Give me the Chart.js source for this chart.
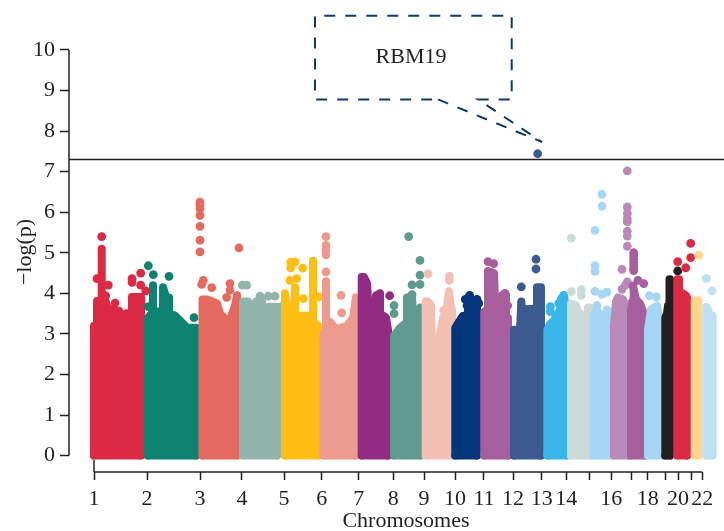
<!DOCTYPE html>
<html>
<head>
<meta charset="utf-8">
<title>Manhattan plot</title>
<script src="https://cdn.jsdelivr.net/npm/chart.js@4/dist/chart.umd.js"></script>
<style>
  body { margin: 0; background: #fff; }
  canvas { display: block; }
</style>
</head>
<body>
<canvas id="manhattan" width="724" height="531"></canvas>
<script>
// x is genome position in plot units, y is -log(p)
const chromColors = ['#dc2a44', '#0e8271', '#e46a60', '#93b4ab', '#ffbe14', '#ec9a8e', '#932b85', '#5e9a8e',
    '#f3bfb3', '#03367a', '#a65f9c', '#3a5a90', '#38b6ea', '#ccdad7', '#a6d6f5', '#b98ab7',
    '#a65f9c', '#a6d6f5', '#231f20', '#dd2a44', '#ffd68b', '#bde0f4'];

const tickPositions = [24, 77, 130, 172, 214, 251.7, 288.7, 323.3, 354, 385, 414, 443, 471.7, 496.3,
    519.7, 541.3, 561, 577.7, 595, 608, 621.3, 632.3];
const tickLabels = ['1', '2', '3', '4', '5', '6', '7', '8', '9', '10', '11', '12', '13', '14',
    '', '16', '', '18', '', '20', '', '22'];
const yTicks = [0, 1, 2, 3, 4, 5, 6, 7, 8, 9, 10];
const genomeWideLine = 7.3;

// upper outline of the dense mass of points on each chromosome
const skylines = [
    [[24, 3.2], [27, 3.2], [27, 3.81], [31.7, 3.81], [31.7, 5.1], [31.7, 3.85], [35, 3.85], [38, 3.6], [43, 3.6], [49, 3.5], [53, 3.38], [62, 3.38], [62, 3.91], [71, 3.91]],
    [[78, 3.4], [83, 3.55], [83, 4.2], [83, 3.55], [93, 3.55], [93, 4.15], [96, 3.9], [99, 3.9], [99, 3.5], [105, 3.45], [112, 3.28], [117, 3.15], [126, 3.15]],
    [[132.5, 3.85], [137, 3.85], [147, 3.75], [150, 3.5], [154, 3.4], [160, 3.35], [165, 3.7], [167, 3.95]],
    [[173, 3.8], [178, 3.8], [180, 3.1], [184, 3.1], [186, 3.8], [192, 3.85], [194, 3.1], [198, 3.1], [199, 3.67], [207, 3.67]],
    [[215, 4.0], [220, 3.4], [225, 3.4], [225, 4.15], [225, 3.45], [243, 3.45], [243, 4.8], [243, 3.3], [248, 3.2]],
    [[253.5, 3.0], [256, 3.0], [256, 4.3], [256, 3.35], [260, 3.3], [266, 3.12], [277, 3.2], [283, 3.4], [286, 3.9]],
    [[291.7, 4.4], [294, 4.4], [297, 4.25], [299, 3.45], [306, 3.45], [306, 3.95], [310, 4.0], [310, 3.5], [316, 3.4], [318, 3.1]],
    [[324, 2.95], [330, 3.15], [335, 3.25], [337, 3.25], [337, 3.9], [342, 3.9], [343, 3.5], [347, 3.2], [350, 3.2], [350, 3.65], [350.5, 3.65]],
    [[355.7, 3.8], [358, 3.8], [361, 3.7], [362, 2.75], [368, 2.65], [370, 3.0], [373, 3.4], [376, 3.5], [379, 4.05], [381, 3.6], [382, 3.2]],
    [[385.3, 3.15], [389, 3.3], [393, 3.45], [397, 3.45], [398, 3.9], [400, 3.6], [405, 3.7], [407, 3.65]],
    [[414.3, 3.55], [418, 3.6], [418, 4.55], [424, 4.5], [425, 3.75], [431, 3.75], [432, 3.95], [436, 3.95], [436, 3.45], [438, 3.4]],
    [[444, 3.1], [450, 3.1], [451.3, 3.8], [452, 3.6], [464, 3.62], [467, 3.65], [467, 4.15], [471, 4.15]],
    [[477.3, 3.1], [480, 3.25], [483, 3.3], [488, 3.5], [492, 3.7], [494, 3.95], [497, 3.5]],
    [[501, 3.75], [506, 3.7], [509, 3.5], [513, 3.45], [517, 3.4], [518, 3.65], [520, 3.65]],
    [[523.3, 3.45], [527, 3.6], [530, 3.45], [536, 3.45], [537, 3.6], [540, 3.55]],
    [[544, 3.2], [546, 3.8], [548, 3.9], [553, 3.85], [553, 3.6], [555, 3.75], [558, 3.75]],
    [[561, 3.6], [563.7, 3.9], [563.7, 4.1], [566, 3.85], [570, 3.75], [573, 3.55], [575, 3.4]],
    [[578, 3.1], [581, 3.6], [587, 3.7], [590, 3.3], [592, 3.2]],
    [[595.3, 3.4], [597, 3.5], [598, 3.7], [599, 3.7], [599.5, 4.35], [600, 4.35]],
    [[607.3, 4.35], [609, 4.35], [609, 4.0], [613, 4.0], [617, 3.9]],
    [[624.7, 3.83], [628.3, 3.83]],
    [[636.3, 3.67], [638, 3.6], [640, 3.45], [642.7, 3.45]]
];

// single points standing clear of the mass
const hits = [
    [[31.7, 5.4], [27, 4.36], [62, 4.36], [62, 4.27], [70.7, 4.5], [70.7, 4.2], [75.7, 4.06], [38.3, 4.2], [35.7, 3.94], [45, 3.76], [49, 3.56], [56.7, 3.5]],
    [[78.3, 4.68], [83.3, 4.46], [99, 4.42], [124, 3.4], [78.3, 3.67]],
    [[130, 6.25], [130, 6.17], [130, 6.09], [130, 5.92], [130, 5.65], [130, 5.31], [130, 5.02], [133.3, 4.32], [131.7, 4.22], [141.7, 4.14], [160, 4.24], [160, 4.08], [169, 5.12], [156.7, 3.9]],
    [[172.3, 4.2], [176.7, 4.2], [190, 3.93], [198.3, 3.93], [205, 3.93], [211.7, 3.67]],
    [[220.7, 4.77], [225, 4.77], [220.7, 4.63], [232.7, 4.62], [220, 4.32], [226.7, 4.36], [249, 3.91], [233.3, 3.87]],
    [[256, 5.4], [256, 5.18], [256, 5.06], [256, 4.95], [256, 4.53], [271, 3.95], [271.7, 3.52]],
    [[319.7, 3.94]],
    [[338.7, 5.4], [350, 4.81], [350, 4.45], [342, 4.21], [350, 4.22], [342, 3.97], [324, 3.7], [324, 3.5]],
    [[358, 4.48], [379.3, 4.42], [379.3, 4.32], [373.7, 3.58]],
    [[399.7, 3.95], [395.3, 3.85], [407, 3.85], [408.7, 3.75], [397, 3.7], [403.7, 3.82]],
    [[418, 4.78], [423.7, 4.73], [435, 4.0], [437.7, 3.7], [432, 3.5]],
    [[451.3, 4.16], [466, 4.84], [466, 4.6], [459.3, 3.38], [467.7, 7.44]],
    [[480.3, 3.67], [480.3, 3.55], [488.7, 3.75], [493.7, 3.95], [491.3, 3.87]],
    [[501.3, 5.36], [501.3, 4.04], [511.3, 4.09], [511.3, 3.95]],
    [[532, 6.44], [532, 6.15], [525, 5.55], [525, 4.68], [525, 4.54], [525, 4.05], [532, 3.98], [537, 4.03], [527, 3.7]],
    [[557.3, 7.02], [557.3, 6.13], [557.3, 5.97], [557.3, 5.84], [557.3, 5.76], [557.3, 5.53], [557.3, 5.41], [557.3, 5.16], [552, 4.59], [557.3, 4.28], [555.3, 4.2], [552, 4.1]],
    [[563.7, 5.0], [563.7, 4.92], [563.7, 4.84], [563.7, 4.76], [563.7, 4.68], [563.7, 4.6], [563.7, 4.56], [568, 4.32], [573.7, 4.24], [563, 4.18]],
    [[579.3, 3.94], [586.3, 3.91]],
    [[607.7, 4.55]],
    [[607.7, 4.78], [620.7, 5.23], [620.7, 4.88], [615.7, 4.63], [615.7, 3.94], [610.3, 3.5]],
    [[628.7, 4.94]],
    [[636.3, 4.37], [642, 4.06]]
];

// callout around the gene label, traced from the point back round the box
const calloutPath = [[368, 8.78], [472, 7.73], [408, 8.78], [441.7, 8.78], [441.7, 10.84], [245, 10.84], [245, 8.78], [368, 8.78]];
const calloutLabel = { text: 'RBM19', x: 341, y: 9.82 };

const inkColor = '#231f20';
const fontFamily = '"Liberation Serif", serif';
const xMin = -1, xMax = 654, yMin = -0.404, yMax = 11.23;

var datasets = [];
chromColors.forEach(function (color, i) {
    const sky = skylines[i];
    const first = sky[0][0];
    const last = sky[sky.length - 1][0];
    const order = 100 - i; // later chromosomes paint over earlier ones
    datasets.push({
        data: [[first, 0]].concat(sky, [[last, 0]]),
        borderColor: color, backgroundColor: color, borderWidth: 8,
        borderJoinStyle: 'round', borderCapStyle: 'round',
        fill: 'origin', pointRadius: 0, tension: 0, order: order
    });
    datasets.push({
        data: [[first, 0], [last, 0]],
        borderColor: color, borderWidth: 8, borderCapStyle: 'round',
        pointRadius: 0, order: order
    });
    datasets.push({
        data: hits[i],
        showLine: false, pointRadius: 4.4, pointBorderWidth: 0,
        pointBackgroundColor: color, order: order
    });
});

// axes lines and the threshold go on top of the marks
function ruleLine(points, width) {
    return { data: points, borderColor: inkColor, borderWidth: width, pointRadius: 0, clip: false, order: 1 };
}
datasets.push(ruleLine([[xMin, 0], [xMin, 10]], 1.5));
datasets.push(ruleLine([[xMin, genomeWideLine], [xMax, genomeWideLine]], 1.5));
datasets.push(ruleLine([[tickPositions[0], yMin], [tickPositions[tickPositions.length - 1], yMin]], 1.5));
datasets.push(ruleLine([[tickPositions[0], yMin], [tickPositions[0], -0.108]], 1.5));
datasets.push({
    data: calloutPath, borderColor: '#0f3a70', borderWidth: 2, borderDash: [11, 10],
    pointRadius: 0, clip: false, order: 0
});

// plain text the scales have no slot for
const textPlugin = {
    id: 'plotText',
    afterDraw: function (chart) {
        const ctx = chart.ctx;
        ctx.save();
        ctx.fillStyle = inkColor;
        ctx.font = '22px ' + fontFamily;
        ctx.textAlign = 'center';
        ctx.textBaseline = 'middle';
        ctx.fillText(calloutLabel.text, chart.scales.x.getPixelForValue(calloutLabel.x), chart.scales.y.getPixelForValue(calloutLabel.y));
        ctx.fillText('Chromosomes', 406, 521);
        ctx.translate(25, 252);
        ctx.rotate(-Math.PI / 2);
        ctx.fillText('\u2212log(p)', 0, 0);
        ctx.restore();
    }
};

new Chart(document.getElementById('manhattan'), {
    type: 'line',
    data: { datasets: datasets },
    plugins: [textPlugin],
    options: {
        responsive: false,
        animation: false,
        events: [],
        layout: { padding: 0, autoPadding: false },
        plugins: { legend: { display: false }, tooltip: { enabled: false } },
        scales: {
            x: {
                type: 'linear',
                min: xMin,
                max: xMax,
                afterFit: function (scale) {
                    scale.height = 59;
                    scale.paddingLeft = 0;
                    scale.paddingRight = 0;
                },
                afterBuildTicks: function (scale) {
                    scale.ticks = tickPositions.map(function (v) { return { value: v }; });
                },
                border: { display: false },
                grid: { drawOnChartArea: false, tickLength: 8, tickWidth: 1.5, tickColor: inkColor },
                ticks: {
                    autoSkip: false,
                    maxRotation: 0,
                    padding: 6,
                    color: inkColor,
                    font: { family: fontFamily, size: 22 },
                    callback: function (value, index) { return tickLabels[index]; }
                }
            },
            y: {
                min: yMin,
                max: yMax,
                afterFit: function (scale) {
                    scale.width = 69;
                    scale.paddingTop = 0;
                    scale.paddingBottom = 0;
                },
                afterBuildTicks: function (scale) {
                    scale.ticks = yTicks.map(function (v) { return { value: v }; });
                },
                border: { display: false },
                grid: { drawOnChartArea: false, tickLength: 9, tickWidth: 1.5, tickColor: inkColor },
                ticks: {
                    padding: 5,
                    color: inkColor,
                    font: { family: fontFamily, size: 22 },
                    callback: function (value) { return String(value); }
                }
            }
        }
    }
});
</script>
</body>
</html>
